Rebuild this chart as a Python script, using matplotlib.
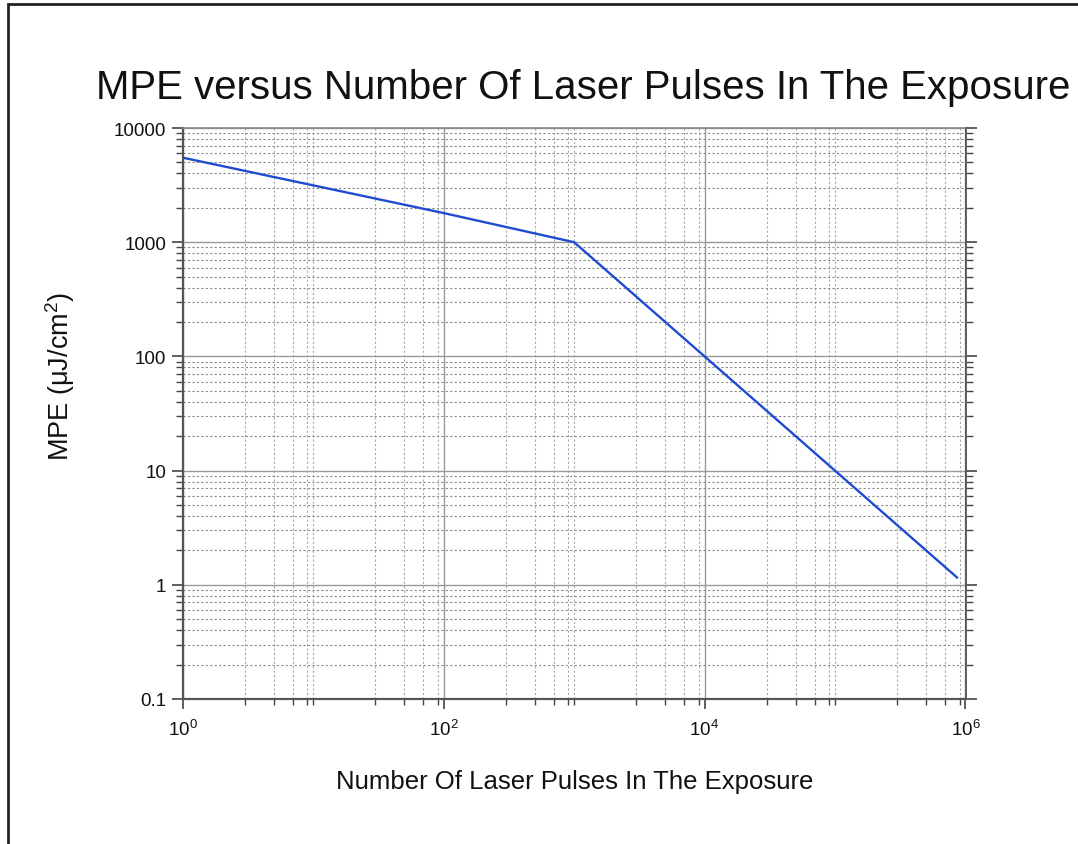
import numpy as np
import matplotlib
matplotlib.use("Agg")
import matplotlib.pyplot as plt
from matplotlib.ticker import FixedLocator, NullFormatter
from matplotlib.patches import Rectangle

plt.rcParams['font.family'] = ['Liberation Sans', 'DejaVu Sans']
plt.rcParams['mathtext.fontset'] = 'custom'
plt.rcParams['mathtext.rm'] = 'Liberation Sans'
plt.rcParams['mathtext.it'] = 'Liberation Sans'

# data
pulses = [1, 100, 1000, 10000, 860000]
mpe = [5500, 1800, 1000, 100, 1.16]

x_major = [1, 1e2, 1e4, 1e6]
x_labels = [r'$\mathregular{10^{0}}$', r'$\mathregular{10^{2}}$',
            r'$\mathregular{10^{4}}$', r'$\mathregular{10^{6}}$']
x_minor = [m * 10.0 ** k for k in (0, 2, 4) for m in (3, 5, 7, 9, 10, 30, 50, 70, 90)]
y_major = [0.1, 1, 10, 100, 1000, 10000]
y_labels = ['0.1', '1', '10', '100', '1000', '10000']

W, H = 1078, 845
fig = plt.figure(figsize=(W / 100, H / 100), dpi=100)
ax = fig.add_axes([182.7 / W, 1 - 700 / H, (965.5 - 182.7) / W, (700 - 129) / H])

ax.plot(pulses, mpe, color='#1f4ccf', lw=1.7, zorder=5)

ax.set_xscale('log')
ax.set_yscale('log')
ax.set_xlim(1, 1e6)
ax.set_ylim(0.1, 10000)

ax.xaxis.set_major_locator(FixedLocator(x_major))
ax.set_xticklabels(x_labels)
ax.xaxis.set_minor_locator(FixedLocator(x_minor))
ax.xaxis.set_minor_formatter(NullFormatter())
ax.yaxis.set_major_locator(FixedLocator(y_major))
ax.set_yticklabels(y_labels)
ax.yaxis.set_minor_locator(FixedLocator(
    [m * 10.0 ** k for k in range(-1, 4) for m in range(2, 10)]))
ax.yaxis.set_minor_formatter(NullFormatter())

ax.grid(True, which='major', color='#9a9a9a', lw=1.0, ls='-')
ax.grid(True, which='minor', axis='y', color='#8a8a8a', lw=0.8, ls=(0, (2, 2)))
ax.grid(True, which='minor', axis='x', color='#a8a8a8', lw=0.8, ls=(0, (2, 2)))

ax.tick_params(axis='both', which='both', direction='out', color='#444444',
               labelsize=13.6, labelcolor='#111111')
ax.tick_params(axis='y', which='major', length=8, width=1.2, right=True, pad=4)
ax.tick_params(axis='y', which='minor', length=5, width=1.0, right=True)
ax.tick_params(axis='x', which='major', length=7, width=1.2, pad=7)
ax.tick_params(axis='x', which='minor', length=4, width=1.0)

for side in ('left', 'bottom'):
    ax.spines[side].set_color('#555555')
    ax.spines[side].set_linewidth(1.6)
ax.spines['right'].set_color('#555555')
ax.spines['right'].set_linewidth(1.3)
ax.spines['top'].set_color('#8a8a8a')
ax.spines['top'].set_linewidth(1.2)

fig.text(583 / W, 1 - 88 / H, 'MPE versus Number Of Laser Pulses In The Exposure',
         fontsize=29, ha='center', va='center', color='#111111')
fig.text(575 / W, 1 - 782 / H, 'Number Of Laser Pulses In The Exposure',
         fontsize=18.5, ha='center', va='center', color='#111111')
fig.text(60 / W, 1 - 376 / H, r'MPE ($\mathregular{\mu}$J/cm$^{\mathregular{2}}$)',
         fontsize=19.5, ha='center', va='center', rotation=90, color='#111111')

# outer frame around the page
fig.patches.append(Rectangle((8 / W, -0.05), 1.2, 1 - 5 / H + 0.05,
                             transform=fig.transFigure, fill=False,
                             edgecolor='#222222', lw=2))

fig.savefig('out.png', dpi=100)
